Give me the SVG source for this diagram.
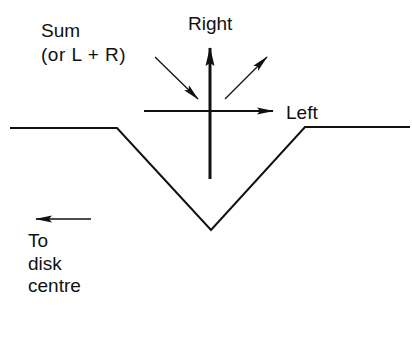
<svg xmlns="http://www.w3.org/2000/svg" width="412" height="341" viewBox="0 0 412 341">
<style>
text{font-family:"Liberation Sans",Arial,sans-serif;font-size:19px;fill:#111}
.ln{stroke:#111;fill:none}
</style>
<defs>
<marker id="ah" markerUnits="userSpaceOnUse" viewBox="0 0 17 8" refX="16" refY="4" markerWidth="17" markerHeight="8" orient="auto">
<path d="M0,0.5 L17,4 L0,7.5 L3,4 z" fill="#111"/>
</marker>
<marker id="ahb" markerUnits="userSpaceOnUse" viewBox="0 0 19 10" refX="18" refY="5" markerWidth="19" markerHeight="10" orient="auto">
<path d="M0,0.5 L19,5 L0,9.5 L3,5 z" fill="#111"/>
</marker>
</defs>
<rect width="412" height="341" fill="#fff"/>
<g id="groove">
<polyline class="ln" stroke-width="2" points="10,128 117,128 211,230 305,127 410,127"/>
</g>
<g id="connectors">
<line class="ln" stroke-width="3" x1="210" y1="179" x2="210" y2="48" marker-end="url(#ahb)"/>
<line class="ln" stroke-width="1.8" x1="144" y1="111" x2="273" y2="111" marker-end="url(#ah)"/>
<line class="ln" stroke-width="1.3" x1="155" y1="57" x2="198" y2="99" marker-end="url(#ah)"/>
<line class="ln" stroke-width="1.3" x1="225" y1="99" x2="267" y2="57" marker-end="url(#ah)"/>
<line class="ln" stroke-width="1.3" x1="91" y1="219" x2="36" y2="219" marker-end="url(#ah)"/>
</g>
<g id="label-sum">
<text x="41" y="37">Sum</text>
<text x="41" y="61" letter-spacing="0.5">(or L + R)</text>
</g>
<g id="label-right"><text x="188" y="30">Right</text></g>
<g id="label-left"><text x="286" y="119">Left</text></g>
<g id="label-disk">
<text x="28" y="247">To</text>
<text x="28" y="270">disk</text>
<text x="28" y="292">centre</text>
</g>
</svg>
